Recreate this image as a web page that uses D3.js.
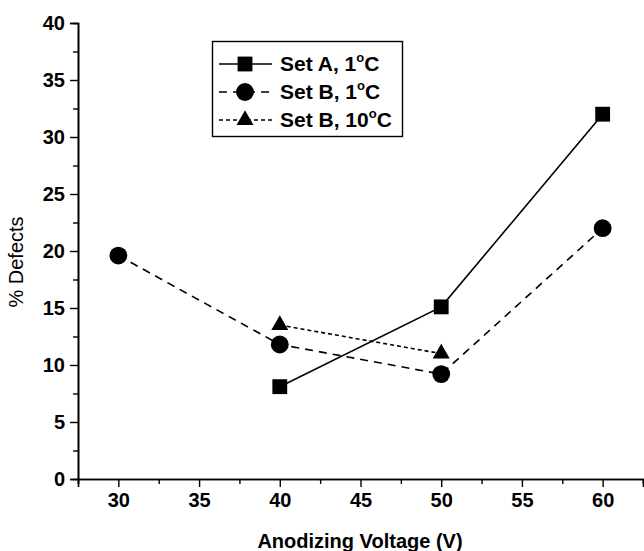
<!DOCTYPE html>
<html>
<head>
<meta charset="utf-8">
<script src="https://cdn.jsdelivr.net/npm/d3@7"></script>
<style>
  html, body { margin: 0; padding: 0; background: #fff; }
  svg { display: block; font-family: "Liberation Sans", Arial, sans-serif; }
</style>
</head>
<body>
<svg id="chart" width="644" height="551"></svg>
<script>
  // values
  var voltageA = [40, 50, 60];
  var defectsA = [8.1, 15.1, 32];
  var voltageB1 = [30, 40, 50, 60];
  var defectsB1 = [19.6, 11.8, 9.2, 22];
  var voltageB10 = [40, 50];
  var defectsB10 = [13.5, 11];
  var xTicks = [30, 35, 40, 45, 50, 55, 60];
  var yTicks = [0, 5, 10, 15, 20, 25, 30, 35, 40];
  var seriesNames = ['Set A, 1', 'Set B, 1', 'Set B, 10'];

  var svg = d3.select('#chart');
  var x = d3.scaleLinear().domain([27.5, 62.5]).range([78, 643]);
  var y = d3.scaleLinear().domain([0, 40]).range([479, 23]);

  var series = [
    { name: seriesNames[0], xs: voltageA, ys: defectsA, dash: null, sym: d3.symbolSquare, size: 220 },
    { name: seriesNames[1], xs: voltageB1, ys: defectsB1, dash: '8,6', sym: d3.symbolCircle, size: 250 },
    { name: seriesNames[2], xs: voltageB10, ys: defectsB10, dash: '4,3', sym: d3.symbolTriangle, size: 125 }
  ];

  // axes, major + minor ticks
  var xAxis = d3.axisBottom(x).tickValues(xTicks).tickSize(8).tickPadding(6);
  var xMinor = d3.axisBottom(x).tickValues(d3.range(27.5, 63, 5)).tickSize(5).tickFormat('');
  var yAxis = d3.axisLeft(y).tickValues(yTicks).tickSize(8).tickPadding(5);
  var yMinor = d3.axisLeft(y).tickValues(d3.range(2.5, 40, 5)).tickSize(5).tickFormat('');

  function styleAxis(g) {
    g.select('.domain').attr('stroke', '#000').attr('stroke-width', 1.6);
    g.selectAll('.tick line').attr('stroke', '#000').attr('stroke-width', 1.4);
    g.selectAll('.tick text')
      .attr('fill', '#000')
      .style('font-size', '20px')
      .style('font-weight', 'bold');
  }

  svg.append('g').attr('transform', 'translate(0,479)').call(xMinor).call(styleAxis);
  svg.append('g').attr('transform', 'translate(0,479)').call(xAxis).call(styleAxis);
  svg.append('g').attr('transform', 'translate(78,0)').call(yMinor).call(styleAxis);
  svg.append('g').attr('transform', 'translate(78,0)').call(yAxis).call(styleAxis);

  svg.append('text')
    .attr('x', 360).attr('y', 548)
    .attr('text-anchor', 'middle')
    .style('font-size', '20px').style('font-weight', 'bold')
    .text('Anodizing Voltage (V)');

  svg.append('text')
    .attr('transform', 'translate(23,262) rotate(-90)')
    .attr('text-anchor', 'middle')
    .style('font-size', '20px')
    .text('% Defects');

  // lines and markers
  var line = d3.line().x(function (d) { return x(d[0]); }).y(function (d) { return y(d[1]); });

  series.forEach(function (s) {
    var pts = s.xs.map(function (v, i) { return [v, s.ys[i]]; });
    svg.append('path')
      .datum(pts)
      .attr('d', line)
      .attr('fill', 'none')
      .attr('stroke', '#000')
      .attr('stroke-width', 1.6)
      .attr('stroke-dasharray', s.dash);
    svg.append('g').selectAll('path')
      .data(pts)
      .enter()
      .append('path')
      .attr('d', d3.symbol().type(s.sym).size(s.size))
      .attr('transform', function (d) { return 'translate(' + x(d[0]) + ',' + y(d[1]) + ')'; })
      .attr('fill', '#000');
  });

  // legend
  var legend = svg.append('g');
  legend.append('rect')
    .attr('x', 212.5).attr('y', 41.5).attr('width', 190).attr('height', 95)
    .attr('fill', '#fff').attr('stroke', '#000').attr('stroke-width', 1.4);

  series.forEach(function (s, i) {
    var ly = 64 + i * 28;
    legend.append('line')
      .attr('x1', 219).attr('x2', 272).attr('y1', ly).attr('y2', ly)
      .attr('stroke', '#000').attr('stroke-width', 1.6)
      .attr('stroke-dasharray', s.dash);
    legend.append('path')
      .attr('d', d3.symbol().type(s.sym).size(s.size))
      .attr('transform', 'translate(245,' + ly + ')')
      .attr('fill', '#000');
    var t = legend.append('text')
      .attr('x', 280).attr('y', ly + 7)
      .style('font-size', '21px').style('font-weight', 'bold');
    t.append('tspan').text(s.name);
    t.append('tspan').attr('dy', -9).style('font-size', '13px').text('o');
    t.append('tspan').attr('dy', 9).text('C');
  });
</script>
</body>
</html>
